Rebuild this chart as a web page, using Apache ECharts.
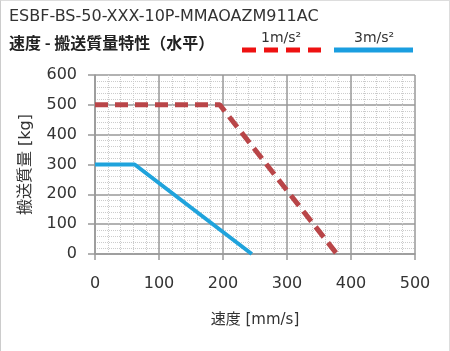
<!DOCTYPE html>
<html>
<head>
<meta charset="utf-8">
<script src="https://cdn.jsdelivr.net/npm/echarts@6/dist/echarts.min.js"></script>
<style>
  html, body { margin: 0; padding: 0; background: #fff; }
  #main { width: 450px; height: 351px; box-sizing: border-box; border-left: 1px solid #ccc; border-top: 1px solid #ddd; border-right: 1px solid #ddd; }
</style>
</head>
<body>
<div id="main"></div>
<script>
var title = 'ESBF-BS-50-XXX-10P-MMAOAZM911AC';
var subtitle = '速度 - 搬送質量特性（水平）';
var seriesNames = ['1m/s²', '3m/s²'];
// [speed mm/s, mass kg]
var acc1 = [[0, 500], [195, 500], [378, 0]];
var acc3 = [[0, 300], [62, 300], [245, 0]];
var xTicks = [0, 100, 200, 300, 400, 500];
var yTicks = [0, 100, 200, 300, 400, 500, 600];

var font = '"DejaVu Sans", "Noto Sans CJK JP", sans-serif';
var cjk = '"Noto Sans CJK JP", "DejaVu Sans", sans-serif';
var chart = echarts.init(document.getElementById('main'));

chart.setOption({
  animation: false,
  textStyle: { fontFamily: font },
  title: [{
    text: title, left: 3, top: 3,
    textStyle: { fontSize: 16, fontWeight: 'normal', color: '#333', fontFamily: font }
  }, {
    text: subtitle, left: 3, top: 29,
    textStyle: { fontSize: 16, fontWeight: 'bold', color: '#222', fontFamily: cjk }
  }],
  graphic: [
    { type: 'line', shape: { x1: 241, y1: 49, x2: 320, y2: 49 },
      style: { stroke: '#ee1111', lineWidth: 5, lineDash: [14, 8] } },
    { type: 'text', left: 260, top: 30, style: { text: seriesNames[0], fill: '#333', font: '14px ' + font } },
    { type: 'text', left: 353, top: 30, style: { text: seriesNames[1], fill: '#333', font: '14px ' + font } },
    { type: 'line', shape: { x1: 333, y1: 49, x2: 412, y2: 49 },
      style: { stroke: '#1a9ee0', lineWidth: 5 } }
  ],
  grid: { left: 94, right: 34, top: 74, bottom: 97, containLabel: false },
  xAxis: {
    type: 'value', min: xTicks[0], max: xTicks[xTicks.length - 1], interval: 100,
    name: '速度 [mm/s]', nameLocation: 'middle', nameGap: 59,
    nameTextStyle: { fontSize: 15, color: '#333', fontFamily: font },
    axisLine: { show: true, lineStyle: { color: '#999', width: 1.5 } },
    axisTick: { show: true, length: 6, lineStyle: { color: '#999', width: 1.5 } },
    axisLabel: { fontSize: 16, color: '#333', margin: 22 },
    splitLine: { show: true, lineStyle: { color: '#999', width: 1.5 } },
    minorTick: { show: false, splitNumber: 5 },
    minorSplitLine: { show: true, lineStyle: { color: '#ccc', type: 'dotted', width: 1 } }
  },
  yAxis: {
    type: 'value', min: yTicks[0], max: yTicks[yTicks.length - 1], interval: 100,
    name: '搬送質量 [kg]', nameLocation: 'middle', nameGap: 61,
    nameTextStyle: { fontSize: 16, color: '#333', fontFamily: font },
    axisLine: { show: true, lineStyle: { color: '#999', width: 1.5 } },
    axisTick: { show: true, length: 7, lineStyle: { color: '#999', width: 1.5 } },
    axisLabel: { fontSize: 16, color: '#333', margin: 18 },
    splitLine: { show: true, lineStyle: { color: '#999', width: 1.5 } },
    minorTick: { show: false, splitNumber: 5 },
    minorSplitLine: { show: true, lineStyle: { color: '#ccc', type: 'dotted', width: 1 } }
  },
  series: [{
    name: seriesNames[0], type: 'line', data: acc1, symbol: 'none',
    lineStyle: { color: '#b94548', width: 5, type: [13, 7], cap: 'butt' }
  }, {
    name: seriesNames[1], type: 'line', data: acc3, symbol: 'none',
    lineStyle: { color: '#1fa3dc', width: 4 }
  }]
});
</script>
</body>
</html>
